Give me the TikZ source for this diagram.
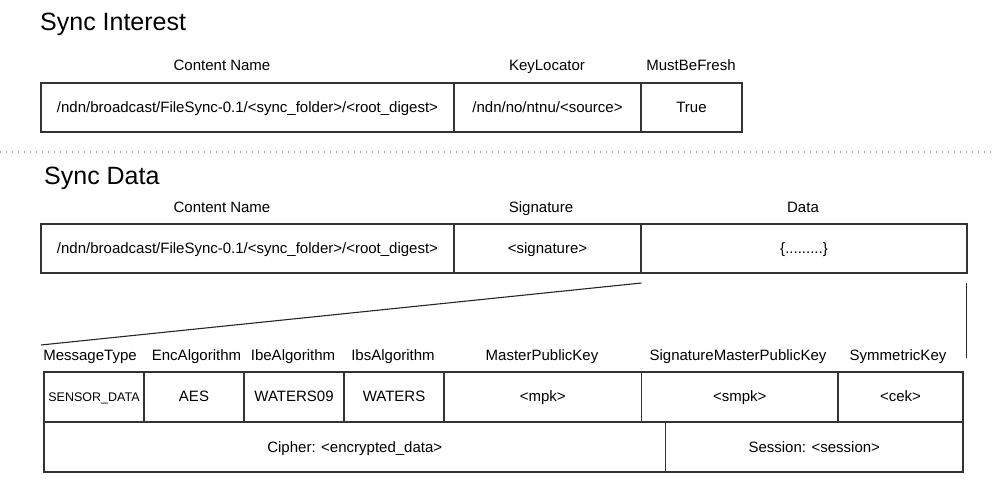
\documentclass[tikz,border=0pt]{standalone}
\usepackage{fontspec}
\setmainfont{Liberation Sans}
\begin{document}
\begin{tikzpicture}[x=1pt,y=-1pt,
  cell/.style={draw=black!80, line width=1.2pt, inner sep=0pt, outer sep=0pt, anchor=north west,
    font=\fontsize{15}{17}\selectfont, text height=12.5pt, text depth=2.5pt},
  lbl/.style={anchor=base, inner sep=0pt, font=\fontsize{15}{17}\selectfont},
  ttl/.style={anchor=base west, inner sep=0pt, font=\fontsize{25}{29}\selectfont},
  conn/.style={draw=black!85, line width=1.1pt}]
\useasboundingbox (0,0) rectangle (994,494);
% titles
\node[ttl] (t1) at (40,31) {Sync Interest};
\node[ttl] (t2) at (44,185) {Sync Data};
% Sync Interest
\node[lbl] (l1) at (222,71) {Content Name};
\node[lbl] (l2) at (547,71) {KeyLocator};
\node[lbl] (l3) at (691,71) {MustBeFresh};
\node[cell, minimum width=413pt, minimum height=49pt] (i1) at (41,83) {/ndn/broadcast/FileSync-0.1/<sync\_folder>/<root\_digest>};
\node[cell, minimum width=187pt, minimum height=49pt] (i2) at (454,83) {/ndn/no/ntnu/<source>};
\node[cell, minimum width=101pt, minimum height=49pt] (i3) at (641,83) {True};
% separator
\coordinate (sepL) at (0,152);
\coordinate (sepR) at (994,152);
\draw[gray!70, line width=1.3pt, dash pattern=on 1.3pt off 4.7pt] (sepL) -- (sepR);
% Sync Data
\node[lbl] (m1) at (222,213) {Content Name};
\node[lbl] (m2) at (541,213) {Signature};
\node[lbl] (m3) at (803,213) {Data};
\node[cell, minimum width=413pt, minimum height=49pt] (d1) at (41,224) {/ndn/broadcast/FileSync-0.1/<sync\_folder>/<root\_digest>};
\node[cell, minimum width=187pt, minimum height=49pt] (d2) at (454,224) {<signature>};
\node[cell, minimum width=326pt, minimum height=49pt] (d3) at (641,224) {\{.........\}};
% zoom connectors
\coordinate (za) at (641.5,283);
\coordinate (zb) at (41,345);
\coordinate (zc) at (966.5,283);
\coordinate (zd) at (966.5,358);
\draw[conn] (za) -- (zb);
\draw[conn] (zc) -- (zd);
% bottom labels
\node[lbl] (b1) at (90,361) {MessageType};
\node[lbl] (b2) at (196.5,361) {EncAlgorithm};
\node[lbl] (b3) at (293,361) {IbeAlgorithm};
\node[lbl] (b4) at (393,361) {IbsAlgorithm};
\node[lbl] (b5) at (542,361) {MasterPublicKey};
\node[lbl] (b6) at (738,361) {SignatureMasterPublicKey};
\node[lbl] (b7) at (898,361) {SymmetricKey};
% bottom table row 1
\node[cell, minimum width=100pt, minimum height=50pt, font=\fontsize{12.5}{14}\selectfont] (c1) at (44,372) {SENSOR\_DATA};
\node[cell, minimum width=100pt, minimum height=50pt] (c2) at (144,372) {AES};
\node[cell, minimum width=100pt, minimum height=50pt] (c3) at (244,372) {WATERS09};
\node[cell, minimum width=100pt, minimum height=50pt] (c4) at (344,372) {WATERS};
\node[cell, minimum width=197.5pt, minimum height=50pt] (c5) at (444,372) {<mpk>};
\node[cell, minimum width=196.5pt, minimum height=50pt] (c6) at (641.5,372) {<smpk>};
\node[cell, minimum width=125pt, minimum height=50pt] (c7) at (838,372) {<cek>};
% row 2
\node[cell, minimum width=621.5pt, minimum height=50pt] (r1) at (44,422) {Cipher: <encrypted\_data>};
\node[cell, minimum width=297.5pt, minimum height=50pt] (r2) at (665.5,422) {Session: <session>};
\end{tikzpicture}
\end{document}
